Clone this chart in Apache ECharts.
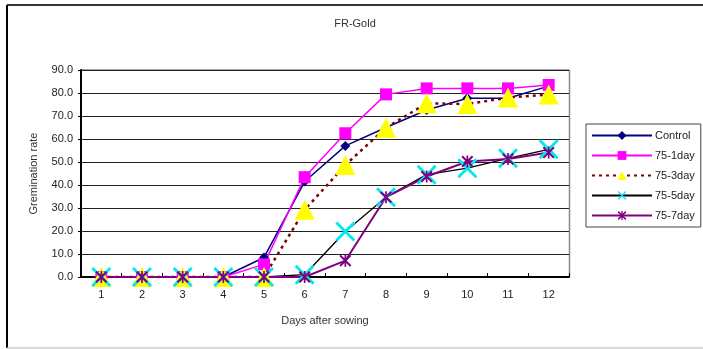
<!DOCTYPE html>
<html>
<head>
<meta charset="utf-8">
<style>
  html, body { margin: 0; padding: 0; background: #fff; }
  #chart { width: 703px; height: 349px; }
</style>
<script src="https://cdn.jsdelivr.net/npm/echarts@6/dist/echarts.min.js"></script>
</head>
<body>
<div id="chart"></div>
<script>
// Germination rate (%) by day after sowing for FR-Gold
const days = ['1', '2', '3', '4', '5', '6', '7', '8', '9', '10', '11', '12'];
const yTicks = { min: 0, max: 90, step: 10 };

const control  = [0, 0, 0, 0, 8.5, 41.5, 57.0, 65.0, 72.6, 77.7, 77.7, 83.0];
const day75_1  = [0, 0, 0, 0, 5.5, 43.4, 62.5, 79.4, 82.0, 82.0, 82.0, 83.5];
const day75_3  = [0, 0, 0, 0, 0.0, 29.2, 48.7, 64.9, 75.5, 75.2, 78.0, 79.3];
const day75_5  = [0, 0, 0, 0, 0.0, 1.0, 19.8, 34.7, 44.5, 47.3, 51.6, 55.5];
const day75_7  = [0, 0, 0, 0, 0.0, 0.0, 7.1, 34.7, 43.7, 50.2, 51.3, 54.1];

// Marker shapes drawn as filled outlines
const crossPath = 'path://M0,1L1,0L10,9L9,10Z M9,0L10,1L1,10L0,9Z';
const starPath = 'path://M0,1.2L1.2,0L10,8.8L8.8,10Z M8.8,0L10,1.2L1.2,10L0,8.8Z M4.3,0L5.7,0L5.7,10L4.3,10Z';

const font = '"Liberation Sans", "DejaVu Sans", sans-serif';

const chart = echarts.init(document.getElementById('chart'), null, { renderer: 'canvas' });

function lineSeries(name, data, lineColor, lineWidth, lineType, symbol, symbolSize, symbolColor) {
  return {
    name: name,
    type: 'line',
    data: data,
    symbol: symbol,
    symbolSize: symbolSize,
    showAllSymbol: true,
    lineStyle: { color: lineColor, width: lineWidth, type: lineType },
    itemStyle: { color: symbolColor, borderWidth: 0 },
    emphasis: { disabled: true },
    animation: false
  };
}

const option = {
  backgroundColor: '#ffffff',
  animation: false,
  title: {
    text: 'FR-Gold',
    left: 350,
    top: 13,
    textAlign: 'center',
    textStyle: { fontFamily: font, fontSize: 11, fontWeight: 'normal', color: '#333' }
  },
  grid: { left: 81, right: 134, top: 70, bottom: 72 },
  legend: {
    orient: 'vertical',
    left: 586,
    top: 124,
    width: 115,
    padding: [6, 6, 6, 5],
    itemWidth: 60,
    itemHeight: 11,
    itemGap: 9,
    borderColor: '#444',
    borderWidth: 1,
    textStyle: { fontFamily: font, fontSize: 11, color: '#222', padding: [0, 0, 0, -2] },
    data: ['Control', '75-1day', '75-3day', '75-5day', '75-7day']
  },
  xAxis: {
    type: 'category',
    data: days,
    boundaryGap: true,
    name: 'Days after sowing',
    nameLocation: 'middle',
    nameGap: 38,
    nameTextStyle: { fontFamily: font, fontSize: 11, color: '#333' },
    axisLine: { lineStyle: { color: '#000', width: 2 } },
    axisTick: { show: true, inside: true, length: 4, lineStyle: { color: '#000' } },
    axisLabel: { fontFamily: font, fontSize: 11, color: '#222', margin: 12 },
    splitLine: { show: false }
  },
  yAxis: {
    type: 'value',
    min: yTicks.min,
    max: yTicks.max,
    interval: yTicks.step,
    name: 'Gremination rate',
    nameLocation: 'middle',
    nameGap: 42,
    nameTextStyle: { fontFamily: font, fontSize: 11, color: '#333' },
    axisLine: { show: true, lineStyle: { color: '#000', width: 2 } },
    axisTick: { show: true, length: 3, lineStyle: { color: '#000' } },
    axisLabel: {
      fontFamily: font, fontSize: 11, color: '#222', margin: 8,
      formatter: function (v) { return v.toFixed(1); }
    },
    splitLine: { show: true, lineStyle: { color: '#222', width: 1 } }
  },
  series: [
    lineSeries('Control', control, '#000080', 1.5, 'solid', 'diamond', 10, '#000080'),
    lineSeries('75-1day', day75_1, '#ff00ff', 1.5, 'solid', 'rect', 12, '#ff00ff'),
    lineSeries('75-3day', day75_3, '#800000', 2.5, [3, 4], 'triangle', 20, '#ffff00'),
    lineSeries('75-5day', day75_5, '#000000', 1.3, 'solid', crossPath, 20, '#00e8f0'),
    lineSeries('75-7day', day75_7, '#800080', 2, 'solid', starPath, 12, '#800080')
  ],
  graphic: [
    // outer frame: top and left dark edges, light bottom edge
    { type: 'line', shape: { x1: 7, y1: 5, x2: 703, y2: 5 }, style: { stroke: '#333', lineWidth: 2 }, z: 10 },
    { type: 'line', shape: { x1: 7, y1: 5, x2: 7, y2: 348 }, style: { stroke: '#000', lineWidth: 2 }, z: 10 },
    { type: 'line', shape: { x1: 7, y1: 348, x2: 703, y2: 348 }, style: { stroke: '#ccc', lineWidth: 1.5 }, z: 10 },
    // plot area right and top edges
    { type: 'line', shape: { x1: 569.5, y1: 70, x2: 569.5, y2: 277 }, style: { stroke: '#888', lineWidth: 1.5 }, z: 0 },
    { type: 'line', shape: { x1: 81, y1: 70, x2: 569.5, y2: 70 }, style: { stroke: '#888', lineWidth: 1.5 }, z: 0 }
  ]
};

chart.setOption(option);
</script>
</body>
</html>
